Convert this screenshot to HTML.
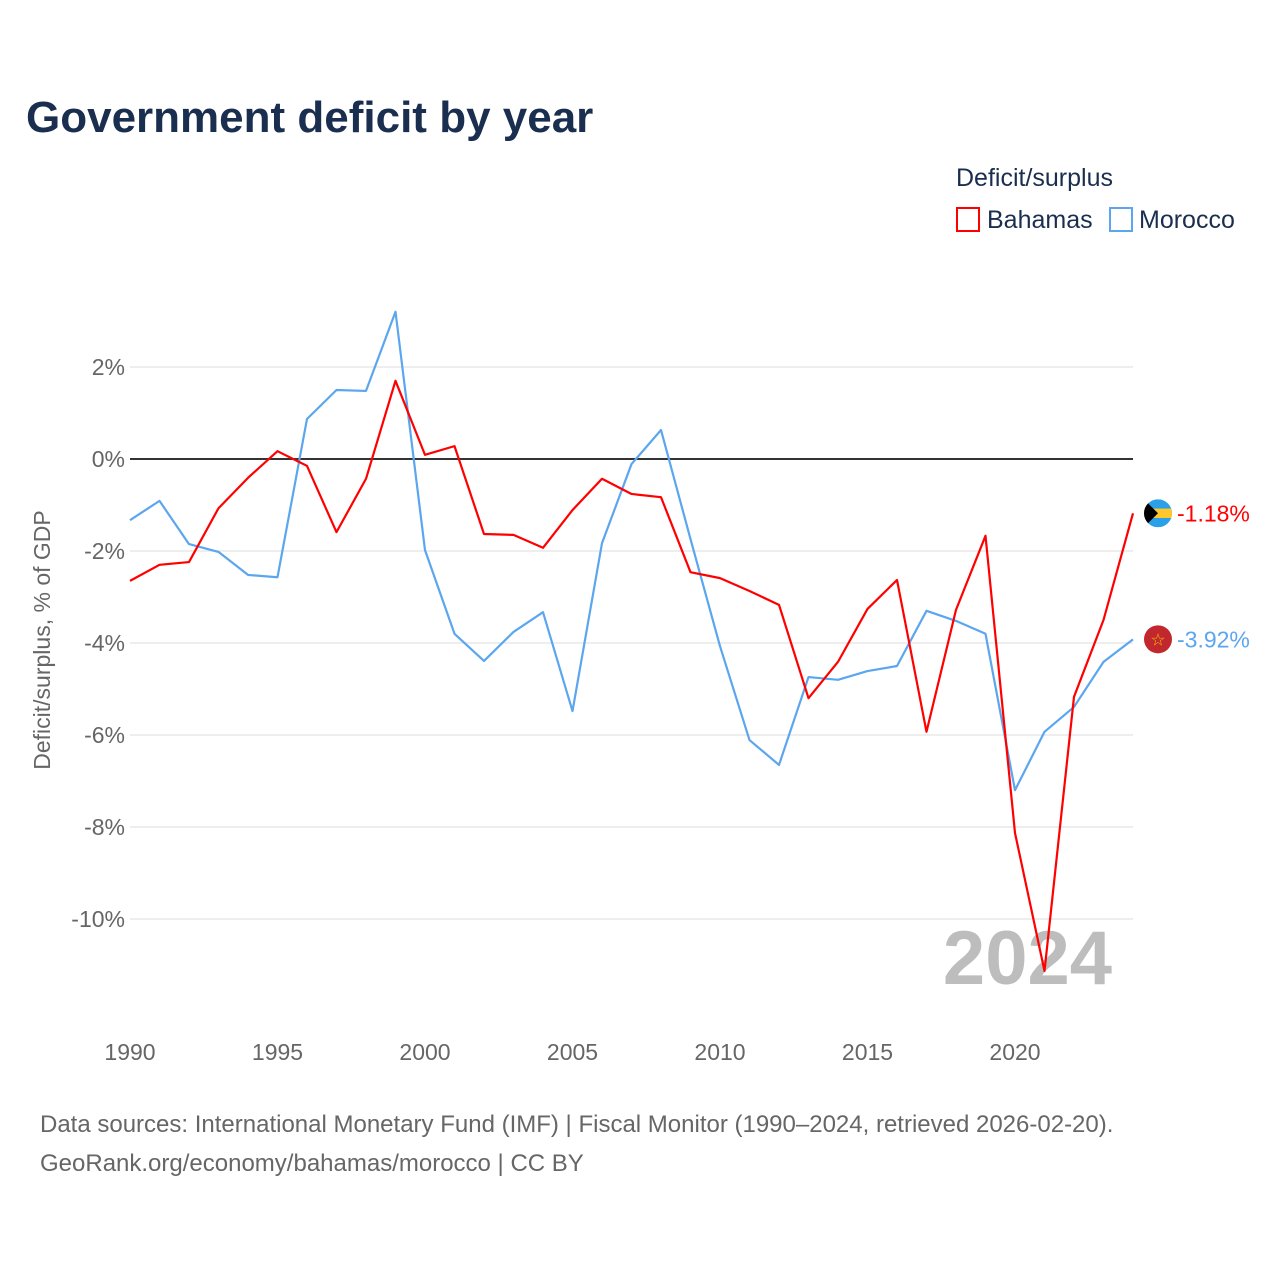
<!DOCTYPE html>
<html><head><meta charset="utf-8"><style>
body{margin:0;background:#fff;width:1280px;height:1280px;overflow:hidden;font-family:"Liberation Sans",sans-serif}
</style></head><body>
<svg id="chart" width="1280" height="1280" xmlns="http://www.w3.org/2000/svg">
<text x="26" y="132" font-size="44" font-weight="bold" fill="#1a2e4f">Government deficit by year</text>
<text x="956" y="186" font-size="25" fill="#1a2e4f">Deficit/surplus</text>
<g><rect x="957" y="208" width="22" height="23" fill="none" stroke="#ff0000" stroke-width="2"/><text x="987" y="228" font-size="25" fill="#1a2e4f">Bahamas</text></g>
<g><rect x="1110" y="208" width="22" height="23" fill="none" stroke="#5ba6ee" stroke-width="2"/><text x="1139" y="228" font-size="25" fill="#1a2e4f">Morocco</text></g>
<text transform="translate(50,640) rotate(-90)" text-anchor="middle" font-size="23" fill="#666">Deficit/surplus, % of GDP</text>
<g id="grid"></g><g id="yticks"></g><g id="xticks"></g>
<text x="1112" y="984" text-anchor="end" font-size="76" font-weight="bold" fill="#bdbdbd">2024</text>
<g id="series"></g>
<text x="40" y="1132" font-size="24" fill="#666">Data sources: International Monetary Fund (IMF) | Fiscal Monitor (1990–2024, retrieved 2026-02-20).</text>
<text x="40" y="1171" font-size="24" fill="#666">GeoRank.org/economy/bahamas/morocco | CC BY</text>
</svg>
<script>
const years=[];for(let y=1990;y<=2024;y++)years.push(y);
const bahamas=[-2.65,-2.3,-2.24,-1.07,-0.41,0.17,-0.15,-1.59,-0.43,1.7,0.09,0.28,-1.63,-1.65,-1.93,-1.11,-0.43,-0.76,-0.83,-2.46,-2.59,-2.87,-3.17,-5.2,-4.41,-3.26,-2.63,-5.93,-3.28,-1.67,-8.13,-11.13,-5.17,-3.5,-1.18];
const morocco=[-1.33,-0.91,-1.85,-2.02,-2.52,-2.57,0.87,1.5,1.48,3.2,-1.98,-3.8,-4.39,-3.76,-3.33,-5.48,-1.83,-0.11,0.63,-1.74,-4.07,-6.11,-6.65,-4.74,-4.8,-4.61,-4.5,-3.3,-3.52,-3.8,-7.2,-5.93,-5.39,-4.41,-3.92];
const yTicks=[2,0,-2,-4,-6,-8,-10];
const xTicks=[1990,1995,2000,2005,2010,2015,2020];
const X=y=>130+(y-1990)*(1133-130)/34;
const Y=v=>459-v*46;
const NS="http://www.w3.org/2000/svg";
function mk(t,a,p){const e=document.createElementNS(NS,t);for(const k in a)e.setAttribute(k,a[k]);p.appendChild(e);return e;}
const grid=document.getElementById('grid'),yt=document.getElementById('yticks'),xt=document.getElementById('xticks'),ser=document.getElementById('series');
yTicks.forEach(v=>{
 const l=mk('line',{x1:130,x2:1133,y1:Y(v),y2:Y(v),stroke:v===0?'#333':'#e8e8e8','stroke-width':v===0?2:1.5},grid);
 
 
 const t=mk('text',{x:125,y:Y(v)+8,'text-anchor':'end','font-size':23,fill:'#666'},yt);
 t.textContent=v+'%';
 
 
});
xTicks.forEach(v=>{
 const t=mk('text',{x:X(v),y:1060,'text-anchor':'middle','font-size':23,fill:'#666'},xt);
 t.textContent=v;
 
 
});
function line(data,color,name){
 const p=mk('polyline',{points:data.map((v,i)=>X(years[i])+','+Y(v)).join(' '),fill:'none',stroke:color,'stroke-width':2.2,'stroke-linejoin':'round'},ser);
 
 
}
line(morocco,'#5ba6ee','morocco-line');
line(bahamas,'#ff0000','bahamas-line');
// end markers
const bx=1158,by=Y(bahamas[bahamas.length-1]);
const g1=mk('g',{},ser);


mk('clipPath',{id:'cb'},g1).appendChild(document.createElementNS(NS,'circle'));
const cc=g1.querySelector('circle');cc.setAttribute('cx',bx);cc.setAttribute('cy',by);cc.setAttribute('r',14);
const gg=mk('g',{'clip-path':'url(#cb)'},g1);
mk('rect',{x:bx-14,y:by-14,width:28,height:28,fill:'#2aa0e8'},gg);
mk('rect',{x:bx-14,y:by-4.7,width:28,height:9.4,fill:'#ffc72c'},gg);
mk('polygon',{points:`${bx-14},${by-14} ${bx},${by} ${bx-14},${by+14}`,fill:'#000'},gg);
const t1=mk('text',{x:1177,y:by+8,'font-size':23,fill:'#ff0000'},ser);
t1.textContent=bahamas[bahamas.length-1].toFixed(2)+'%';


const my=Y(morocco[morocco.length-1]);
const g2=mk('g',{},ser);


mk('circle',{cx:bx,cy:my,r:14,fill:'#c1272d'},g2);
mk('text',{x:bx,y:my+6,'text-anchor':'middle','font-size':17,fill:'#f0c000'},g2).textContent='☆';
const t2=mk('text',{x:1177,y:my+8,'font-size':23,fill:'#5ba6ee'},ser);
t2.textContent=morocco[morocco.length-1].toFixed(2)+'%';


</script>
</body></html>
